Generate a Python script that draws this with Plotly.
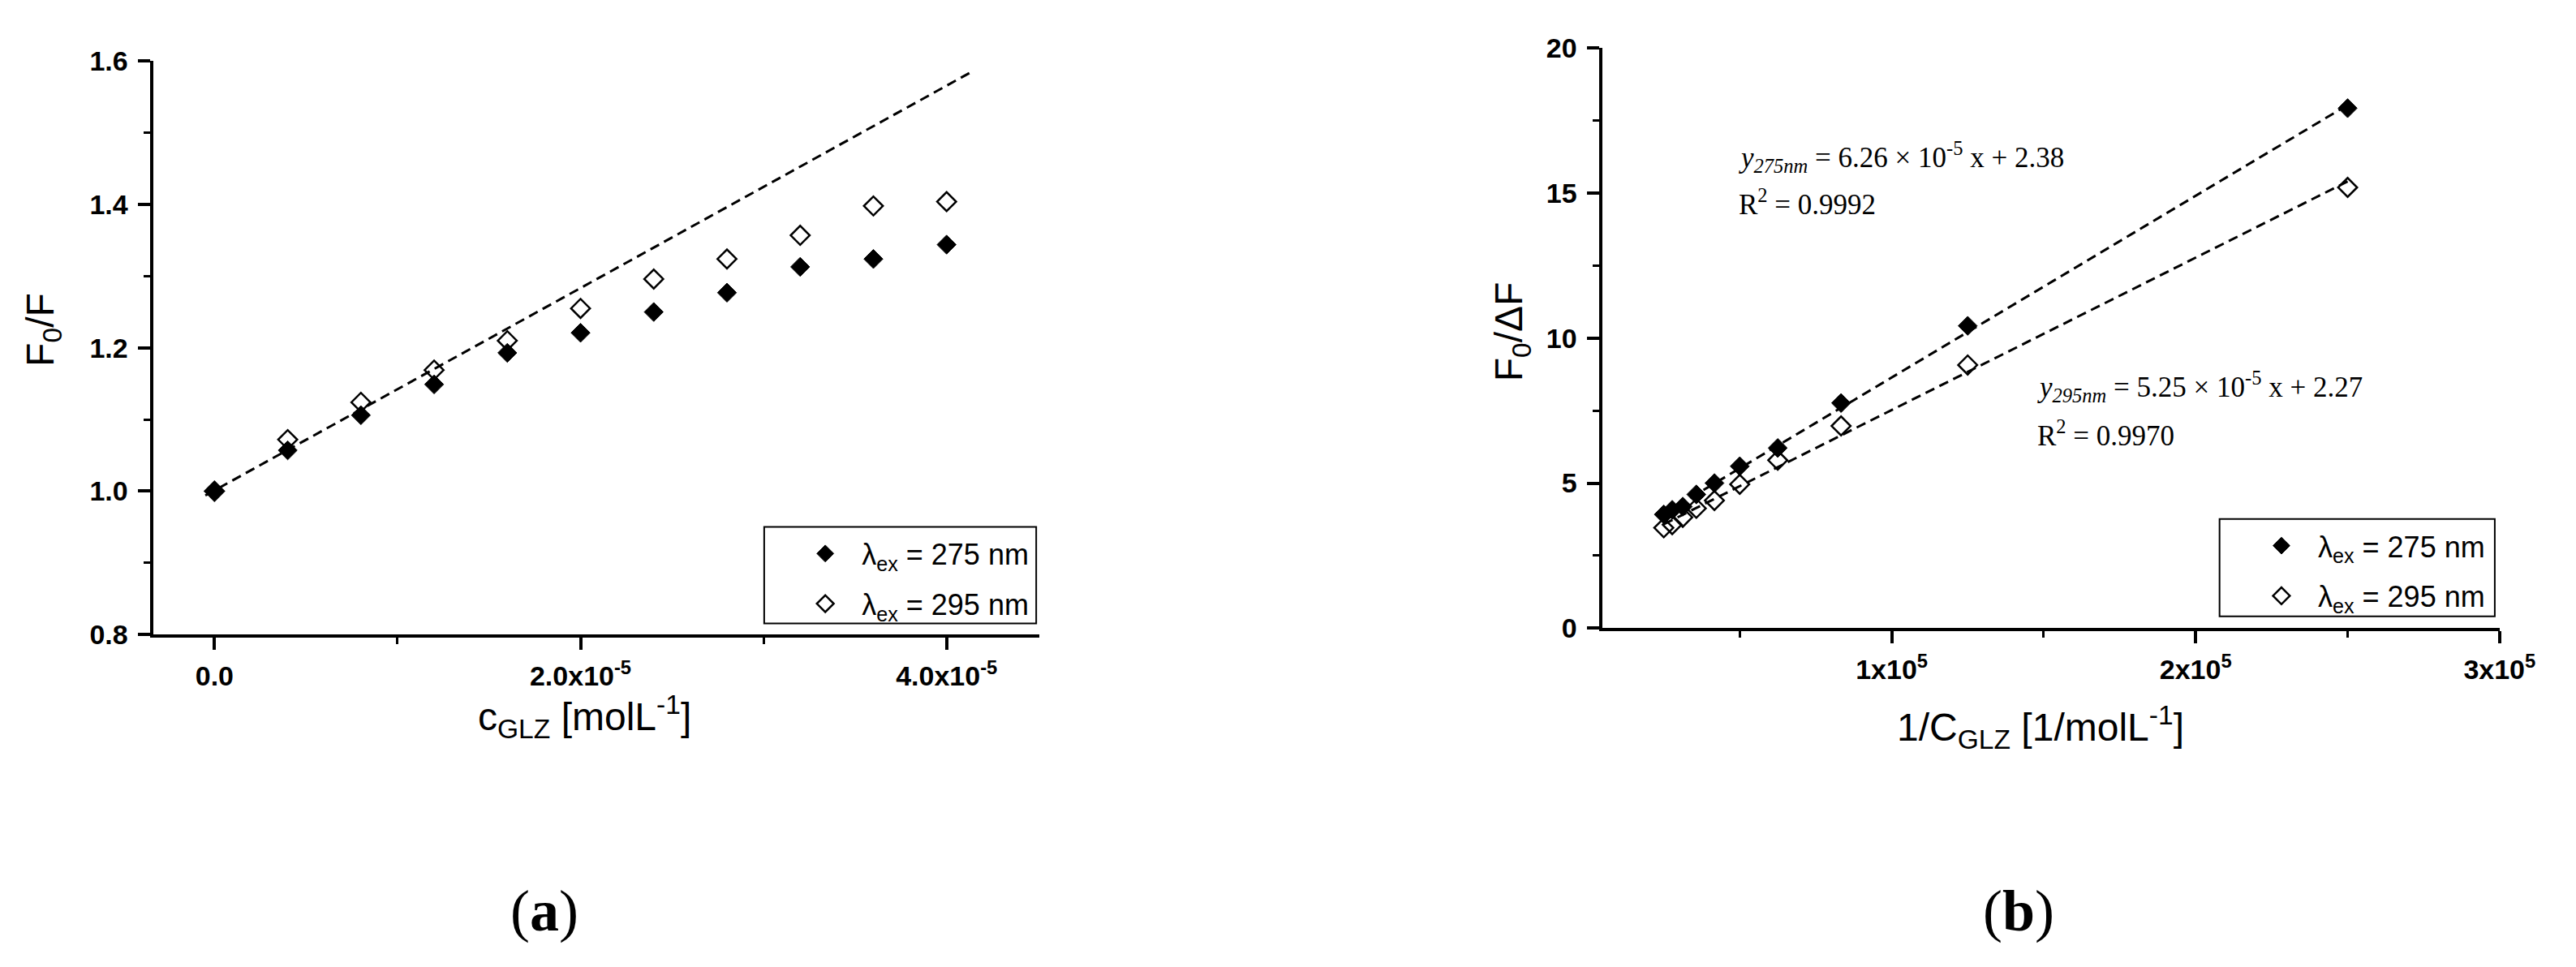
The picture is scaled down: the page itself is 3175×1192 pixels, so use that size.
import plotly.graph_objects as go

# ---------------- data ----------------
# panel (a): Stern-Volmer plot
conc = [0.0, 0.4e-5, 0.8e-5, 1.2e-5, 1.6e-5, 2.0e-5, 2.4e-5, 2.8e-5, 3.2e-5, 3.6e-5, 4.0e-5]
f0f_275 = [1.000, 1.057, 1.106, 1.149, 1.193, 1.221, 1.250, 1.277, 1.313, 1.324, 1.344]
f0f_295 = [1.000, 1.072, 1.124, 1.169, 1.210, 1.255, 1.296, 1.324, 1.357, 1.398, 1.404]
sv_line_x = [-0.05e-5, 4.15e-5]
sv_line_y = [0.994, 1.587]

# panel (b): modified Stern-Volmer plot
inv_conc = [250000, 125000, 83333, 62500, 50000, 41667, 35714, 31250, 27778, 25000]
f0df_275 = [17.92, 10.42, 7.76, 6.21, 5.58, 5.00, 4.61, 4.19, 4.08, 3.92]
f0df_295 = [15.19, 9.07, 6.97, 5.79, 4.96, 4.40, 4.13, 3.82, 3.57, 3.46]
fit_slope = [6.26e-5, 5.25e-5]
fit_intercept = [2.38, 2.27]
fit_x = [25000, 250000]

# tick labels
a_xticks = [0.0, 2.0e-5, 4.0e-5]
a_xtext = ["0.0", "2.0x10<sup>-5</sup>", "4.0x10<sup>-5</sup>"]
a_yticks = [0.8, 1.0, 1.2, 1.4, 1.6]
a_ytext = ["0.8", "1.0", "1.2", "1.4", "1.6"]
b_xticks = [1e5, 2e5, 3e5]
b_xtext = ["1x10<sup>5</sup>", "2x10<sup>5</sup>", "3x10<sup>5</sup>"]
b_yticks = [0, 5, 10, 15, 20]
b_ytext = ["0", "5", "10", "15", "20"]

NB = "\u00a0\u00a0"
legend_names = [NB + "λ<sub>ex</sub> = 275 nm", NB + "λ<sub>ex</sub> = 295 nm"]

# ---------------- figure ----------------
W, H = 3175, 1192


def px(x):
    return x / W


def py(y):
    return 1 - y / H


SANS = "Liberation Sans, Arial, sans-serif"
SERIF = "Liberation Serif, Times New Roman, serif"

fig = go.Figure()

mk = 18
# panel (a)
fig.add_trace(go.Scatter(x=sv_line_x, y=sv_line_y, mode="lines", xaxis="x", yaxis="y",
                         line=dict(color="black", width=3, dash="12px,7px"), showlegend=False))
fig.add_trace(go.Scatter(x=conc, y=f0f_275, mode="markers", xaxis="x", yaxis="y",
                         name=legend_names[0], legend="legend", legendgroup="a1",
                         marker=dict(symbol="diamond", size=mk, color="black",
                                     line=dict(color="black", width=1))))
fig.add_trace(go.Scatter(x=conc, y=f0f_295, mode="markers", xaxis="x", yaxis="y",
                         name=legend_names[1], legend="legend", legendgroup="a2",
                         marker=dict(symbol="diamond-open", size=mk, color="black",
                                     line=dict(color="black", width=2.5))))

# panel (b)
fit275_y = [fit_slope[0] * v + fit_intercept[0] for v in fit_x]
fit295_y = [fit_slope[1] * v + fit_intercept[1] for v in fit_x]
fig.add_trace(go.Scatter(x=fit_x, y=fit275_y, mode="lines", xaxis="x2", yaxis="y2",
                         line=dict(color="black", width=3, dash="12px,7px"), showlegend=False))
fig.add_trace(go.Scatter(x=fit_x, y=fit295_y, mode="lines", xaxis="x2", yaxis="y2",
                         line=dict(color="black", width=3, dash="12px,7px"), showlegend=False))
fig.add_trace(go.Scatter(x=inv_conc, y=f0df_275, mode="markers", xaxis="x2", yaxis="y2",
                         name=legend_names[0], legend="legend2", legendgroup="b1",
                         marker=dict(symbol="diamond", size=mk, color="black",
                                     line=dict(color="black", width=1))))
fig.add_trace(go.Scatter(x=inv_conc, y=f0df_295, mode="markers", xaxis="x2", yaxis="y2",
                         name=legend_names[1], legend="legend2", legendgroup="b2",
                         marker=dict(symbol="diamond-open", size=mk, color="black",
                                     line=dict(color="black", width=2.5))))

tickfont = dict(family=SANS, size=34, color="black", weight="bold")
axis_common = dict(showline=True, linewidth=4, linecolor="black", showgrid=False, zeroline=False,
                   ticks="outside", ticklen=15, tickwidth=4, tickcolor="black", tickfont=tickfont,
                   mirror=False)
minor_common = dict(ticks="outside", ticklen=8, tickwidth=3, tickcolor="black",
                    tickmode="linear", showgrid=False)

fig.update_layout(
    width=W, height=H, autosize=False,
    margin=dict(l=0, r=0, t=0, b=0),
    paper_bgcolor="white", plot_bgcolor="white",
    xaxis=dict(domain=[px(184), px(1291)], range=[-0.332e-5, 4.507e-5], anchor="y",
               tickmode="array", tickvals=a_xticks, ticktext=a_xtext, ticklabelstandoff=3,
               minor=dict(tick0=0, dtick=1e-5, **minor_common),
               **axis_common),
    yaxis=dict(domain=[py(780), py(50)], range=[0.8, 1.6], anchor="x",
               tickmode="array", tickvals=a_yticks, ticktext=a_ytext, ticklabelstandoff=6,
               minor=dict(tick0=0.8, dtick=0.1, **minor_common),
               **axis_common),
    xaxis2=dict(domain=[px(1995), px(3116)], range=[4900, 300000], anchor="y2",
                tickmode="array", tickvals=b_xticks, ticktext=b_xtext, ticklabelstandoff=3,
                minor=dict(tick0=0, dtick=5e4, **minor_common),
                **axis_common),
    yaxis2=dict(domain=[py(772), py(33)], range=[0, 20], anchor="x2",
                tickmode="array", tickvals=b_yticks, ticktext=b_ytext, ticklabelstandoff=6,
                minor=dict(tick0=0, dtick=2.5, **minor_common),
                **axis_common),
    legend=dict(x=px(998), y=py(646), xanchor="left", yanchor="top",
                borderwidth=0, bgcolor="rgba(0,0,0,0)",
                font=dict(family=SANS, size=36, color="black"),
                tracegroupgap=12, itemwidth=40),
    legend2=dict(x=px(2818), y=py(636), xanchor="left", yanchor="top",
                 borderwidth=0, bgcolor="rgba(0,0,0,0)",
                 font=dict(family=SANS, size=36, color="black"),
                 tracegroupgap=12, itemwidth=40),
    showlegend=True,
)

# legend frames
for (x0, x1, y0, y1) in [(947, 1287, 643, 766), (2766, 3110, 633, 757)]:
    fig.add_shape(type="rect", xref="paper", yref="paper",
                  x0=px(x0), x1=px(x1), y0=py(y1), y1=py(y0),
                  line=dict(color="black", width=2), fillcolor="rgba(0,0,0,0)", layer="above")

annots = [
    dict(text="F<sub>0</sub>/F", x=px(45), y=py(392), textangle=-90,
         font=dict(family=SANS, size=48, color="black")),
    dict(text="c<sub>GLZ</sub> [molL<sup>-1</sup>]", x=px(723), y=py(885),
         font=dict(family=SANS, size=48, color="black")),
    dict(text="F<sub>0</sub>/ΔF", x=px(1882), y=py(394), textangle=-90,
         font=dict(family=SANS, size=48, color="black")),
    dict(text="1/C<sub>GLZ</sub> [1/molL<sup>-1</sup>]", x=px(2542), y=py(898),
         font=dict(family=SANS, size=48, color="black")),
    dict(text="<i>y</i><sub><i>275nm</i></sub> = 6.26 × 10<sup>-5</sup> x + 2.38", x=px(2163), y=py(172),
         xanchor="left", font=dict(family=SERIF, size=35, color="black")),
    dict(text="R<sup>2</sup> = 0.9992", x=px(2163), y=py(230),
         xanchor="left", font=dict(family=SERIF, size=35, color="black")),
    dict(text="<i>y</i><sub><i>295nm</i></sub> = 5.25 × 10<sup>-5</sup> x + 2.27", x=px(2536), y=py(464),
         xanchor="left", font=dict(family=SERIF, size=35, color="black")),
    dict(text="R<sup>2</sup> = 0.9970", x=px(2536), y=py(524),
         xanchor="left", font=dict(family=SERIF, size=35, color="black")),
    dict(text="(<b>a</b>)", x=px(672), y=py(1132),
         font=dict(family=SERIF, size=72, color="black")),
    dict(text="(<b>b</b>)", x=px(2515), y=py(1132),
         font=dict(family=SERIF, size=72, color="black")),
]
for a in annots:
    a.setdefault("xanchor", "center")
    a.update(xref="paper", yref="paper", showarrow=False, yanchor="middle")
    fig.add_annotation(**a)

fig.write_html("out.html")
